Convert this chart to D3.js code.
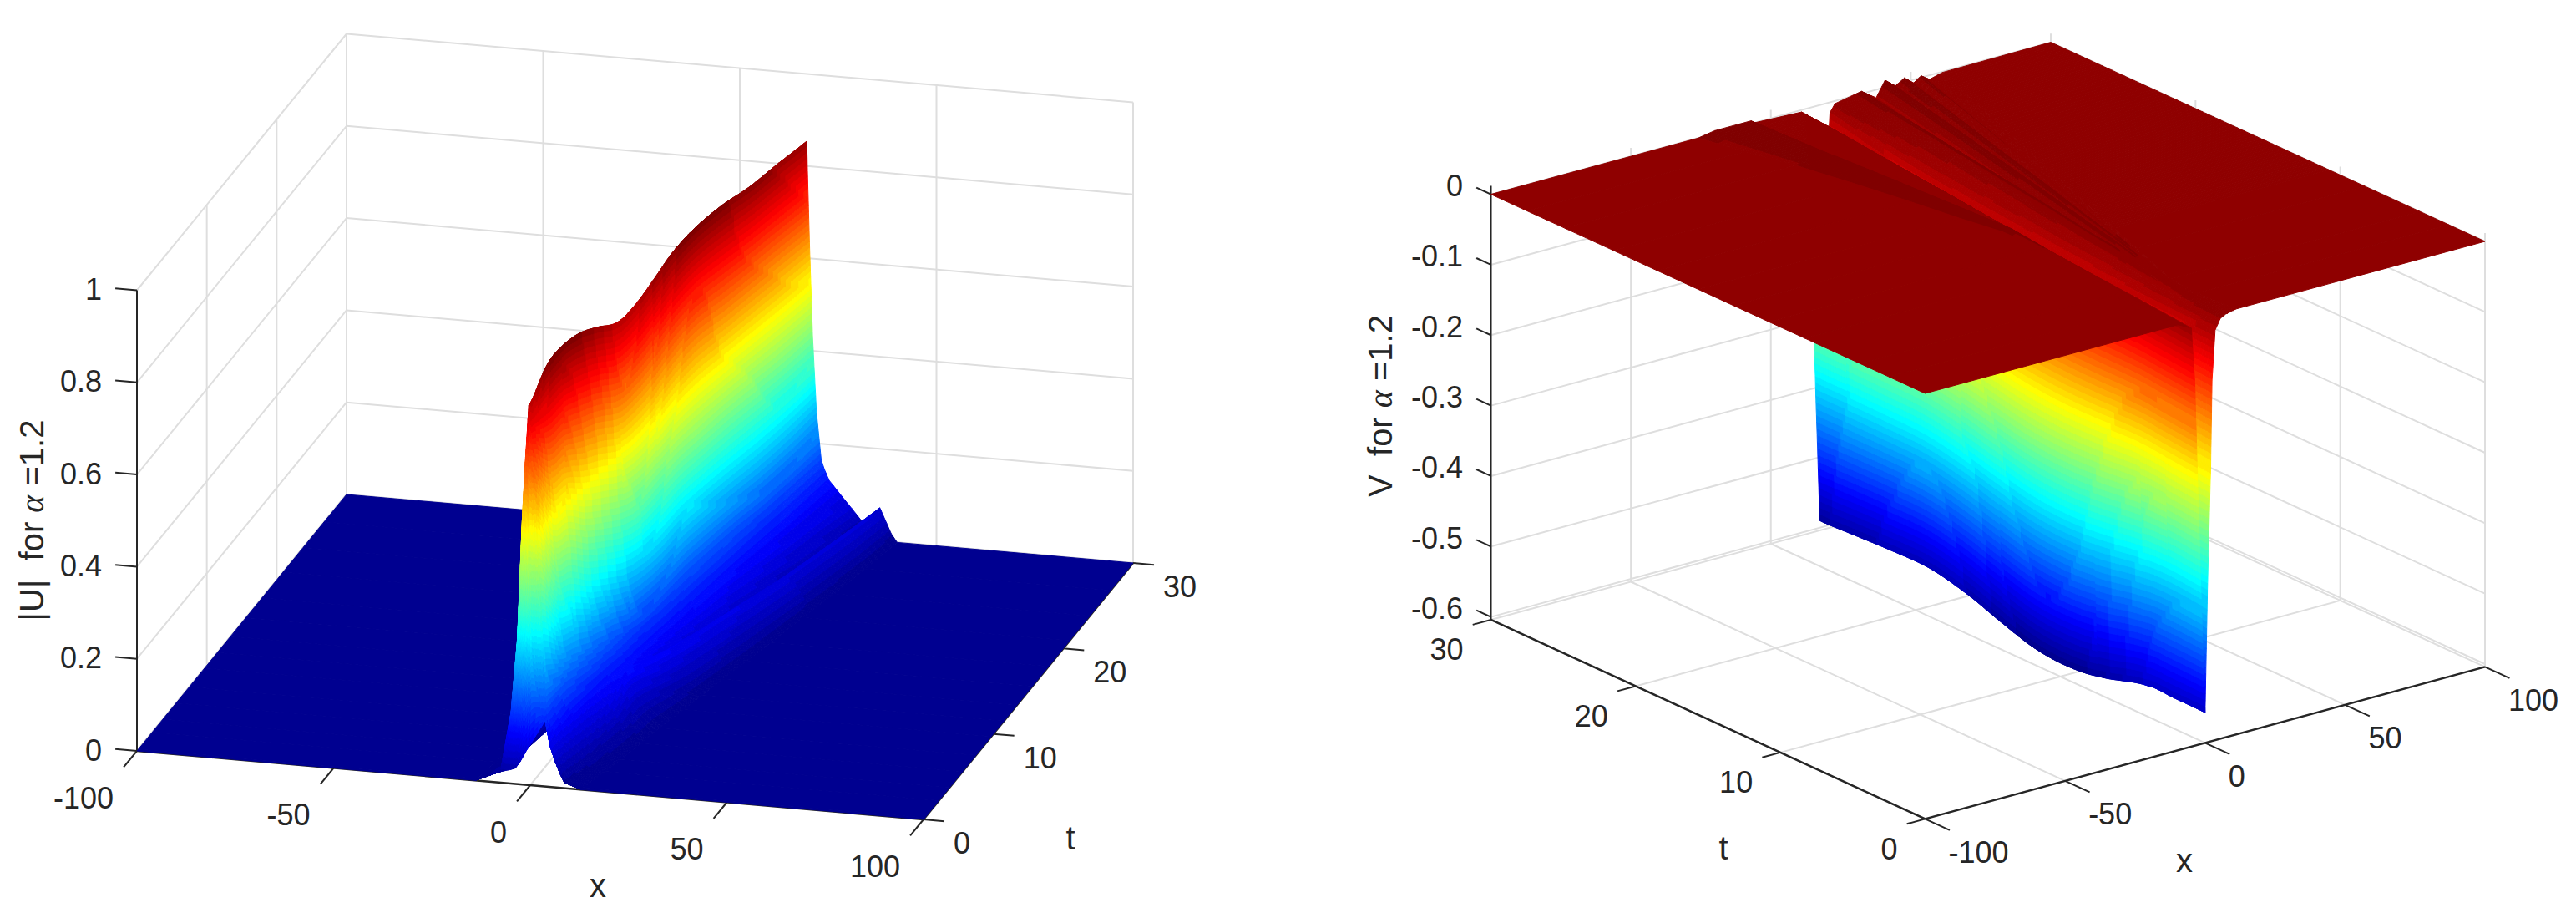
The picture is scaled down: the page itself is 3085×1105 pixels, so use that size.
<!DOCTYPE html>
<html>
<head>
<meta charset="utf-8">
<script src="https://cdn.jsdelivr.net/npm/d3@7"></script>
<style>
html, body { margin: 0; padding: 0; background: #fff; }
svg { display: block; }
text { font-family: "Liberation Sans", Arial, sans-serif; font-size: 36px; fill: #262626; }
text.name { font-size: 40px; }
</style>
</head>
<body>
<svg id="chart" width="3085" height="1105"></svg>
<script>
// tick labels
var xTicks = [-100, -50, 0, 50, 100];
var tTicks = [0, 10, 20, 30];
var uTicks = [0, 0.2, 0.4, 0.6, 0.8, 1];
var vTicks = [0, -0.1, -0.2, -0.3, -0.4, -0.5, -0.6];

// |U| surface (t), columns follow the pulse
var uRowT = [0, 0.2, 2.2, 3.7, 5.6, 7.5, 9.7, 11.5, 13.4, 15.6, 17.9, 20.9, 23.8, 26.8, 30];
var uCrestX = [-0.7, -0.7, 0.32, 1.22, 2.36, 3.5, 4.82, 5.9, 7.04, 8.36, 9.74, 11.54, 13.28, 15.08, 17];
var uOffsets = [-13, -7.1, -4.5, -2.9, -1.7, -0.9, 0, 0.7, 1.5, 2.5, 3.7, 4.5, 5.7];
var uFrontX = [-100, -14, -7.5, -5, -3.8, -2.5, -1, 0.5, 1.5, 2.3, 2.9, 3.4, 3.8, 5, 6.4, 7.6, 8.7, 13, 100];
var uTailX = [
	[6.4, 7.6, 8.7, 13],
	[6.4, 7.6, 8.7, 13],
	[7.4, 8.6, 10.5, 15],
	[8.2, 9.2, 11.5, 16.5],
	[9.3, 10.5, 13.5, 18],
	[10, 11, 14.5, 19.5],
	[12, 14, 17.5, 21.7],
	[13.5, 16.3, 20, 23.3],
	[15.3, 18.5, 22.5, 25],
	[17.5, 20.6, 25, 27.2],
	[19.5, 23.5, 27.5, 29.4],
	[22.5, 26.7, 30.7, 32.1],
	[25.5, 29.7, 33.3, 34.9],
	[28.5, 32.6, 36.2, 37.5],
	[32, 35.6, 38.5, 40]
];
var uGridZ = [
	[0, 0, .024, .03, .034, .05, .074, .095, .11, .122, .13, .138, .144, .09, .055, .03, .012, 0, 0],
	[0, 0, .024, .153, .313, .569, .697, .82, .735, .635, .49, .27, .15, .09, .055, .03, .012, 0, 0],
	[0, 0, .017, .14, .31, .54, .71, .871, .69, .54, .39, .235, .165, .105, .07, .05, .02, 0, 0],
	[0, 0, .018, .14, .32, .55, .72, .883, .69, .53, .37, .22, .16, .11, .085, .065, .025, 0, 0],
	[0, 0, .018, .14, .32, .54, .72, .878, .67, .49, .33, .2, .155, .115, .1, .09, .03, 0, 0],
	[0, 0, .017, .14, .31, .53, .70, .857, .65, .46, .3, .185, .15, .12, .115, .115, .04, 0, 0],
	[0, 0, .017, .13, .30, .51, .68, .828, .62, .43, .27, .165, .14, .115, .1, .105, .035, 0, 0],
	[0, 0, .017, .13, .30, .51, .68, .83, .62, .42, .26, .16, .14, .115, .09, .1, .03, 0, 0],
	[0, 0, .017, .14, .31, .53, .69, .8475, .63, .43, .26, .165, .14, .115, .08, .095, .03, 0, 0],
	[0, 0, .017, .14, .31, .54, .72, .872, .65, .44, .27, .17, .145, .12, .07, .09, .028, 0, 0],
	[0, 0, .018, .14, .32, .55, .72, .882, .66, .44, .27, .17, .145, .122, .065, .085, .027, 0, 0],
	[0, 0, .018, .14, .32, .55, .72, .879, .65, .44, .265, .17, .145, .122, .055, .08, .025, 0, 0],
	[0, 0, .017, .14, .31, .54, .71, .866, .645, .435, .26, .165, .145, .12, .045, .077, .022, 0, 0],
	[0, 0, .017, .14, .31, .54, .71, .861, .64, .43, .26, .165, .145, .12, .04, .074, .02, 0, 0],
	[0, 0, .017, .14, .31, .53, .70, .854, .635, .43, .265, .165, .145, .122, .03, .072, .018, 0, 0]
];

// V surface, same idea: trough, its rim, the thin band on the left and the fan on the right
var vRowT = [0, 2.5, 4.5, 8.3, 10.8, 13.25, 15.7, 18.5, 21.5, 24.9, 27.5, 30];
var vCrestX = [0, 1.46, 2.63, 4.84, 6.3, 7.73, 9.16, 10.79, 12.54, 14.52, 16.04, 17.5];
var vOffsets = [-4.9, -3.7, -2.8, -1.5, 0, 0.9, 2, 2.5, 3.6, 5.4];
var vEdgeX = [-8.6, -7, -5.7, -3.2, -1.5, 0, 1.6, 3.5, 5.4, 7.7, 9.4, 11];
var vBandX = [
	[-12.6, -11.6, -10.6, -9.6],
	[-11, -10, -9, -8],
	[-9.7, -8.7, -7.7, -6.7],
	[-7.2, -6.2, -5.2, -4.2],
	[-3.5, -2.7, -2.2, -1.9],
	[-3.5, -2.18, -0.77, -0.3],
	[-6.5, -4.8, -1.7, -0.7],
	[-9.5, -7.8, -2.8, -1.7],
	[-13, -11, -3.9, -2.7],
	[-17.5, -14.6, -5.2, -4],
	[-22, -17.3, -6.2, -5],
	[-26, -20, -7.1, -6]
];
var vFanX = [
	[6, 6.5, 7, 7.5, 8, 8.5, 9, 9.5, 10, 11],
	[7.2, 7.5, 7.8, 8.1, 8.4, 8.7, 9, 9.3, 9.6, 10],
	[9, 9.36, 9.64, 9.82, 10.03, 10.2, 10.4, 10.54, 10.7, 10.96],
	[11.53, 12.79, 13.81, 14.44, 15.16, 15.79, 16.44, 16.97, 17.56, 18.46],
	[13.2, 15.05, 16.55, 17.48, 18.54, 19.47, 20.42, 21.2, 22.07, 23.4],
	[14.83, 17.26, 19.24, 20.45, 21.86, 23.07, 24.32, 25.35, 26.49, 28.23],
	[16.47, 19.48, 21.93, 23.43, 25.17, 26.68, 28.23, 29.5, 30.91, 33.07],
	[18.33, 22.01, 25, 26.83, 28.96, 30.8, 32.69, 34.23, 35.96, 38.6],
	[20.33, 24.72, 28.28, 30.48, 33, 35.2, 37.46, 39.31, 41.37, 44.52],
	[22.6, 27.79, 32, 34.6, 37.6, 40.2, 42.88, 45.07, 47.5, 51.23],
	[24.33, 30.14, 34.86, 37.76, 41.12, 44.02, 47.02, 49.46, 52.19, 56.36],
	[26, 32.4, 37.6, 40.8, 44.5, 47.7, 51, 53.7, 56.7, 61.3]
];
var vGridZ = [
	[0, 0, 0, 0, 0, -.002, -.01, -.085, -.21, -.38, -.561, -.379, -.215, -.0915, -.022, -.0078, -.006, -.005, -.004, -.003, -.003, -.002, -.002, -.001, -.001, 0, 0],
	[0, 0, 0, 0, 0, -.002, -.01, -.085, -.21, -.38, -.5645, -.38, -.215, -.092, -.025, -.01, -.008, -.006, -.006, -.004, -.004, -.003, -.002, -.002, -.001, 0, 0],
	[0, 0, 0, 0, 0, -.002, -.01, -.085, -.21, -.386, -.568, -.383, -.216, -.093, -.027, -.012, -.012, -.01, -.012, -.004, -.008, -.002, -.005, -.001, -.002, 0, 0],
	[0, 0, 0, 0, 0, -.002, -.011, -.089, -.219, -.403, -.593, -.4, -.225, -.097, -.03, -.015, -.014, .002, -.016, .004, -.006, .003, -.005, .002, -.003, 0, 0],
	[0, 0, .001, .001, 0, -.002, -.011, -.09, -.223, -.41, -.603, -.407, -.229, -.098, -.032, -.016, -.015, .002, -.016, .005, -.005, .004, -.005, .002, -.004, 0, 0],
	[0, 0, .002, .002, 0, -.002, -.011, -.09, -.223, -.41, -.603, -.407, -.229, -.098, -.032, -.016, -.014, .003, -.016, .006, -.005, .004, -.005, .002, -.004, -.001, 0],
	[0, 0, .002, .002, 0, -.002, -.011, -.089, -.219, -.403, -.593, -.4, -.225, -.097, -.03, -.015, -.013, .003, -.015, .007, -.004, .005, -.005, .002, -.005, -.001, 0],
	[0, 0, .002, .002, 0, -.002, -.01, -.087, -.214, -.394, -.579, -.391, -.22, -.094, -.03, -.015, -.012, .003, -.014, .008, -.004, .005, -.005, .002, -.005, -.001, 0],
	[0, 0, .002, .002, 0, -.002, -.01, -.086, -.211, -.389, -.5716, -.386, -.217, -.093, -.028, -.014, -.01, .003, -.013, .009, -.003, .005, -.005, .002, -.005, -.001, 0],
	[0, 0, .002, .002, 0, -.002, -.01, -.087, -.214, -.393, -.5774, -.39, -.219, -.094, -.025, -.012, -.007, .003, -.013, .01, -.003, .006, -.005, .002, -.006, -.001, 0],
	[0, 0, .003, .003, 0, -.002, -.01, -.088, -.216, -.397, -.584, -.394, -.222, -.095, -.02, -.008, -.004, .003, -.012, .01, -.002, .006, -.005, .002, -.006, -.001, 0],
	[0, 0, .004, .004, 0, -.003, -.01, -.089, -.218, -.401, -.59, -.398, -.224, -.096, -.015, -.004, -.0015, .0033, -.0117, .01, -.0022, .0058, -.0048, .0024, -.0059, -.001, 0]
];

// jet anchors, MATLAB's 64 step colormap is built from them
var jetStops = ["#000090", "#0000ff", "#00ffff", "#ffff00", "#ff0000", "#800000"];
var jetPos = [0, 0.117, 0.367, 0.617, 0.867, 1];
var jetRamp = d3.scaleLinear().domain(jetPos).range(jetStops).interpolate(d3.interpolateRgb);
var jet64 = d3.range(64).map(function(i){ return jetRamp(i / 63); });

var gridColor = "#dedede", axisColor = "#262626";
var svg = d3.select("#chart");

function uPointX(i, j){
	if(i == 0) return uFrontX[j];
	if(j == 0) return -100;
	if(j == 18) return 100;
	if(j <= 13) return uCrestX[i] + uOffsets[j - 1];
	return uTailX[i][j - 14];
}

function vPointX(i, j){
	if(j == 0) return -100;
	if(j == 26) return 100;
	if(j <= 4) return vBandX[i][j - 1];
	if(j == 5) return vEdgeX[i];
	if(j <= 15) return vCrestX[i] + vOffsets[j - 6];
	return vFanX[i][j - 16];
}

function makeProjection(p){
	var xS = d3.scaleLinear().domain([-100, 100]).range([0, 1]);
	var tS = d3.scaleLinear().domain([0, 30]).range([0, 1]);
	var zS = d3.scaleLinear().domain(p.zDomain).range(p.zRange);
	return function(x, t, z){
		return [p.origin[0] + xS(x) * p.xVec[0] + tS(t) * p.tVec[0],
			p.origin[1] + xS(x) * p.xVec[1] + tS(t) * p.tVec[1] + zS(z)];
	};
}

function drawLine(g, a, b, color, width){
	g.append("line")
	.attr("x1", a[0]).attr("y1", a[1])
	.attr("x2", b[0]).attr("y2", b[1])
	.attr("stroke", color)
	.attr("stroke-width", width);
}

// rounded shading between two rows, like the fine mesh of the original surf
function spline(a, b, c, d, u){
	return 0.5 * (2 * b + (c - a) * u + (2 * a - 5 * b + 4 * c - d) * u * u + (3 * b - a - 3 * c + d) * u * u * u);
}

// cuts every mesh cell in little cells, one colour each, far cells first
function surfaceCells(s){
	var cells = [];
	var rows = s.rowT.length, nCols = s.gridZ[0].length;

	function getZ(i, j){ return s.gridZ[i][j]; }
	function rowZ(i, j, u){
		// the first rows are a jump, no rounding there
		if(i < s.roundFrom) return getZ(i, j) * (1 - u) + getZ(i + 1, j) * u;
		var i0 = Math.max(s.roundFrom, i - 1), i3 = Math.min(rows - 1, i + 2);
		return spline(getZ(i0, j), getZ(i, j), getZ(i + 1, j), getZ(i3, j), u);
	}
	function at(i, j, u, w){
		var x = (s.pointX(i, j) * (1 - u) + s.pointX(i + 1, j) * u) * (1 - w) + (s.pointX(i, j + 1) * (1 - u) + s.pointX(i + 1, j + 1) * u) * w;
		var z = rowZ(i, j, u) * (1 - w) + rowZ(i, j + 1, u) * w;
		return {x: x, z: z, t: s.rowT[i] + (s.rowT[i + 1] - s.rowT[i]) * u};
	}
	function screen(p){ return s.project(p.x, p.t, p.z); }

	for(var i = rows - 2; i >= 0; i--){
		// same slices for the whole row, otherwise neighbours leave pin holes
		var rowSpan = d3.max(d3.range(nCols), function(j){ return Math.abs(getZ(i + 1, j) - getZ(i, j)); });
		var nI = Math.min(70, Math.max(12, Math.ceil(rowSpan / s.level)));
		for(var c = 0; c < nCols - 1; c++){
			var j = s.reverseX ? nCols - 2 - c : c;
			var z00 = getZ(i, j), z01 = getZ(i, j + 1), z10 = getZ(i + 1, j), z11 = getZ(i + 1, j + 1);
			var flat = Math.max(Math.abs(z00), Math.abs(z01), Math.abs(z10), Math.abs(z11)) == 0;
			var steps = Math.max(Math.abs(z01 - z00), Math.abs(z11 - z10)) / s.level;
			var nJ = flat ? 1 : Math.min(40, Math.max(Math.ceil(steps), Math.min(8, Math.ceil(steps * 4)), 1));
			var nA = flat ? 1 : nI;
			for(var a = nA - 1; a >= 0; a--){
				for(var b0 = 0; b0 < nJ; b0++){
					var b = s.reverseX ? nJ - 1 - b0 : b0;
					var mid = at(i, j, (a + 0.5) / nA, (b + 0.5) / nJ);
					cells.push({
						pts: [screen(at(i, j, a / nA, b / nJ)), screen(at(i, j, a / nA, (b + 1) / nJ)),
							screen(at(i, j, (a + 1) / nA, (b + 1) / nJ)), screen(at(i, j, (a + 1) / nA, b / nJ))],
						fill: s.color(mid.z)
					});
				}
			}
		}
	}
	return cells;
}

function drawSurface(g, cells){
	var line = d3.line().digits(1);
	g.append("g").selectAll("path")
	.data(cells)
	.join("path")
	.attr("d", function(d){ return line(d.pts) + "Z"; })
	.attr("fill", function(d){ return d.fill; })
	.attr("stroke", function(d){ return d.fill; })
	.attr("stroke-width", 1);
}

function label(g, x, y, txt, anchor, cls){
	return g.append("text")
	.attr("class", cls || null)
	.attr("x", x).attr("y", y)
	.attr("text-anchor", anchor || "middle")
	.attr("dominant-baseline", "central")
	.text(txt);
}

function zAxisTitle(g, x, y, before){
	var t = g.append("text")
	.attr("class", "name")
	.attr("transform", "translate(" + x + "," + y + ") rotate(-90)")
	.attr("text-anchor", "middle");
	t.append("tspan").text(before);
	t.append("tspan").attr("font-family", "Liberation Serif").attr("font-style", "italic").text("\u03b1");
	t.append("tspan").text("\u00a0=1.2");
}

/* ---------- left panel ---------- */
function drawLeft(){
	var g = svg.append("g");
	var project = makeProjection({origin: [164, 899], xVec: [942, 82], tVec: [251, -307], zDomain: [0, 1], zRange: [0, -551.5]});

	// back walls and floor
	xTicks.forEach(function(x){
		drawLine(g, project(x, 30, 0), project(x, 30, 1), gridColor, 2);
		drawLine(g, project(x, 0, 0), project(x, 30, 0), gridColor, 2);
	});
	tTicks.forEach(function(t){
		drawLine(g, project(-100, t, 0), project(-100, t, 1), gridColor, 2);
		drawLine(g, project(-100, t, 0), project(100, t, 0), gridColor, 2);
	});
	uTicks.forEach(function(z){
		drawLine(g, project(-100, 0, z), project(-100, 30, z), gridColor, 2);
		drawLine(g, project(-100, 30, z), project(100, 30, z), gridColor, 2);
	});

	// axes
	drawLine(g, project(-100, 0, 0), project(-100, 0, 1), axisColor, 2);
	drawLine(g, project(-100, 0, 0), project(100, 0, 0), axisColor, 2.5);
	drawLine(g, project(100, 0, 0), project(100, 30, 0), axisColor, 2.5);
	xTicks.forEach(function(x){
		var p = project(x, 0, 0);
		drawLine(g, p, project(x, -1.9, 0), axisColor, 2);
		label(g, p[0] - 28, p[1] + 56, x, "end");
	});
	tTicks.forEach(function(t){
		var p = project(100, t, 0);
		drawLine(g, p, project(105.3, t, 0), axisColor, 2);
		label(g, p[0] + 36, p[1] + 28.5, t, "start");
	});
	uTicks.forEach(function(z){
		var p = project(-100, 0, z);
		drawLine(g, p, project(-105.5, 0, z), axisColor, 2);
		label(g, 122, p[1] - 1, z, "end");
	});

	var color = d3.scaleQuantize().domain([0, 0.883]).range(jet64);
	drawSurface(g, surfaceCells({rowT: uRowT, gridZ: uGridZ, pointX: uPointX, color: color, project: project, reverseX: false, level: 0.883 / 64, roundFrom: 1}));

	label(g, 716, 1060, "x", "middle", "name");
	label(g, 1282, 1003, "t", "middle", "name");
	zAxisTitle(g, 52, 623, "|U|\u00a0\u00a0for\u00a0");
}

/* ---------- right panel ---------- */
function drawRight(){
	var g = svg.append("g");
	var top = 0.012, bottom = -0.604;
	var project = makeProjection({origin: [2305.5, 471], xVec: [670.5, -182], tVec: [-520, -238.4], zDomain: [0, -0.6], zRange: [0, 506]});

	xTicks.forEach(function(x){
		drawLine(g, project(x, 30, bottom), project(x, 30, top), gridColor, 2);
		drawLine(g, project(x, 0, bottom), project(x, 30, bottom), gridColor, 2);
	});
	tTicks.forEach(function(t){
		drawLine(g, project(100, t, bottom), project(100, t, top), gridColor, 2);
		drawLine(g, project(-100, t, bottom), project(100, t, bottom), gridColor, 2);
	});
	vTicks.forEach(function(z){
		drawLine(g, project(-100, 30, z), project(100, 30, z), gridColor, 2);
		drawLine(g, project(100, 30, z), project(100, 0, z), gridColor, 2);
	});

	drawLine(g, project(-100, 30, top), project(-100, 30, bottom), axisColor, 2);
	drawLine(g, project(-100, 30, bottom), project(-100, 0, bottom), axisColor, 2.5);
	drawLine(g, project(-100, 0, bottom), project(100, 0, bottom), axisColor, 2.5);
	xTicks.forEach(function(x){
		var p = project(x, 0, bottom);
		drawLine(g, p, project(x, -1.7, bottom), axisColor, 2);
		label(g, p[0] + 28, p[1] + 40, x, "start");
	});
	tTicks.forEach(function(t){
		var p = project(-100, t, bottom);
		drawLine(g, p, project(-106.5, t, bottom), axisColor, 2);
		label(g, p[0] - 33, p[1] + 36, t, "end");
	});
	vTicks.forEach(function(z){
		var p = project(-100, 30, z);
		drawLine(g, p, project(-100, 31, z), axisColor, 2);
		label(g, 1752, p[1] - 10, z, "end");
	});

	var color = d3.scaleQuantize().domain([-0.603, 0.0105]).range(jet64);
	drawSurface(g, surfaceCells({rowT: vRowT, gridZ: vGridZ, pointX: vPointX, color: color, project: project, reverseX: true, level: 0.6135 / 64, roundFrom: 0}));

	label(g, 2616, 1030, "x", "middle", "name");
	label(g, 2064, 1015, "t", "middle", "name");
	zAxisTitle(g, 1667, 486, "V\u00a0\u00a0for\u00a0");
}

drawLeft();
drawRight();
</script>
</body>
</html>
